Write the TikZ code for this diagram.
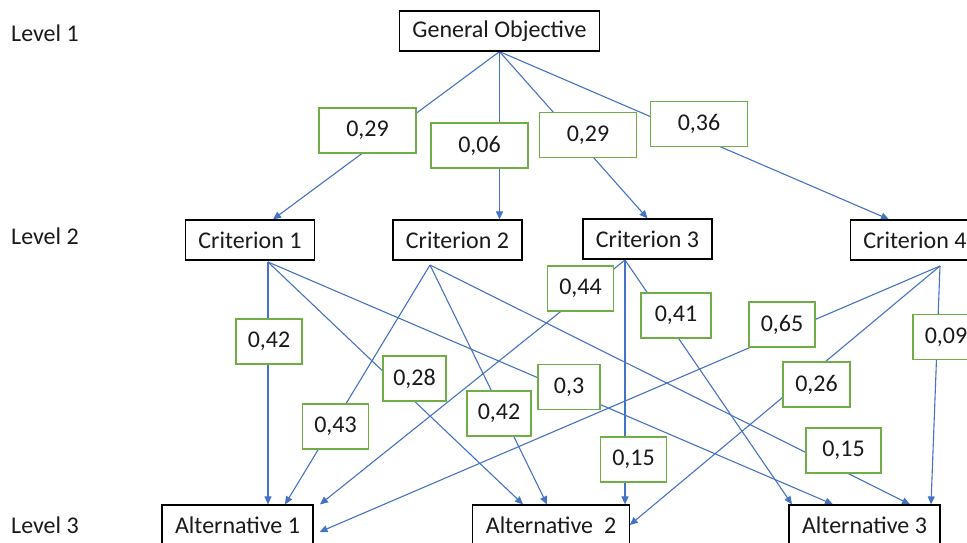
\documentclass[tikz,border=0pt]{standalone}
\usepackage{fontspec}
\setmainfont{Carlito}
\usetikzlibrary{arrows.meta,backgrounds}
\definecolor{linkblue}{HTML}{4472C4}
\definecolor{wtgreen}{HTML}{70AD47}
\definecolor{boxtext}{HTML}{1A1A1A}
\newcommand{\diagfont}{\fontsize{24}{28}\selectfont}
\tikzset{
  levelbox/.style={draw=black, fill=white, line width=1.2pt, inner xsep=13pt, minimum height=40pt, text=boxtext, font=\diagfont},
  wt/.style={draw=wtgreen, fill=white, line width=1.2pt, minimum width=66pt, minimum height=45pt, text=boxtext, font=\diagfont},
  wtwide/.style={wt, minimum width=97pt},
  link/.style={draw=linkblue, line width=1.1pt, -{Triangle[length=8pt,width=7pt]}},
  lvl/.style={anchor=west, inner sep=0pt, text=boxtext, font=\diagfont}
}

\begin{document}
\begin{tikzpicture}[x=1pt, y=-1pt]
\useasboundingbox (0,0) rectangle (967,543);

\node[lvl] (l1) at (11,33) {Level 1};
\node[lvl] (l2) at (11,236) {Level 2};
\node[lvl] (l3) at (11,525) {Level 3};

\node[levelbox] (go) at (499.5,31) {General Objective};

\node[levelbox] (c1) at (250,240) {Criterion 1};
\node[levelbox] (c2) at (457.5,240) {Criterion 2};
\node[levelbox] (c3) at (647.5,239) {Criterion 3};
\node[levelbox] (c4) at (915,240) {Criterion 4};

\node[levelbox] (a1) at (237.5,525) {Alternative 1};
\node[levelbox] (a2) at (551,525) {Alternative~ 2};
\node[levelbox] (a3) at (864.5,525) {Alternative 3};

\node[wtwide] (w1) at (367.5,130.5) {0,29};
\node[wtwide] (w2) at (479.5,145.5) {0,06};
\node[wtwide] (w3) at (588,135) {0,29};
\node[wtwide] (w4) at (699,124) {0,36};

\node[wt] (w11) at (269,341.5) {0,42};
\node[wt, minimum width=63pt] (w12) at (414.5,378.5) {0,28};
\node[wt, minimum width=62pt] (w13) at (569,387) {0,3};
\node[wt] (w21) at (335.5,426.5) {0,43};
\node[wt, minimum width=64pt] (w22) at (499,413.5) {0,42};
\node[wt, minimum width=75pt] (w23) at (843.5,450.5) {0,15};
\node[wt] (w31) at (580.5,288.5) {0,44};
\node[wt] (w32) at (633.5,459.5) {0,15};
\node[wt, minimum width=70pt] (w33) at (676,315.5) {0,41};
\node[wt] (w41) at (782,324.5) {0,65};
\node[wt, minimum width=67pt] (w42) at (816.5,384.5) {0,26};
\node[wt] (w43) at (946,337) {0,09};

\coordinate (c1o) at (268,262);
\coordinate (c2o) at (430,265);
\coordinate (c3o) at (625,260);
\coordinate (c4o) at (940,266);

\begin{scope}[on background layer]
\draw[link] (go.south) -- ([xshift=23pt]c1.north);
\draw[link] (go.south) -- (go.south |- c2.north);
\draw[link] (go.south) -- (c3.north);
\draw[link] (go.south) -- ([xshift=-26pt]c4.north);

\draw[link] (c1o) -- (c1o |- a1.north);
\draw[link] (c1o) -- ([xshift=-28pt]a2.north);
\draw[link] (c1o) -- ([xshift=-31.5pt]a3.north);

\draw[link] (c2o) -- ([xshift=47.5pt]a1.north);
\draw[link] (c2o) -- ([xshift=-4pt]a2.north);
\draw[link] (c2o) -- ([xshift=45.5pt]a3.north);

\draw[link] (c3o) -- ([xshift=82.5pt]a1.north);
\draw[link] (c3o) -- (c3o |- a2.north);
\draw[link] (c3o) -- ([xshift=-72.5pt]a3.north);

\draw[link] (c4o) -- ([xshift=6pt,yshift=-7pt]a1.east);
\draw[link] (c4o) -- (a2.east);
\draw[link] (c4o) -- ([xshift=66.5pt]a3.north);
\end{scope}
\end{tikzpicture}
\end{document}
